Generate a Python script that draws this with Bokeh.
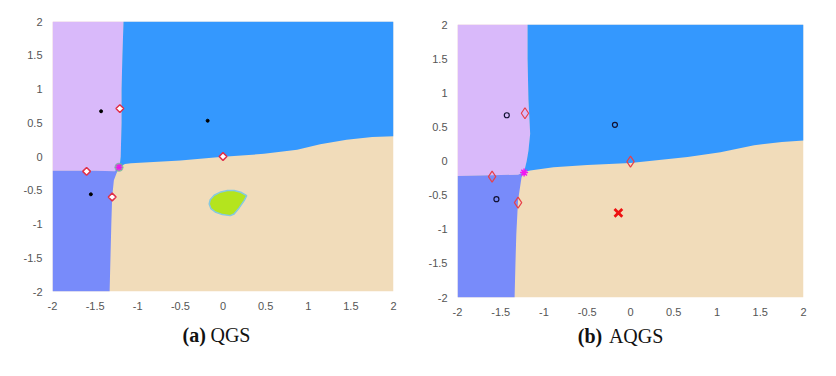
from bokeh.plotting import figure
from bokeh.layouts import row, column
from bokeh.models import Range1d, FixedTicker
from bokeh.core.properties import value
from bokeh.embed import file_html
from bokeh.resources import INLINE

# ---------------- data ----------------
tick_values = [-2, -1.5, -1, -0.5, 0, 0.5, 1, 1.5, 2]
tick_labels = ["-2", "-1.5", "-1", "-0.5", "0", "0.5", "1", "1.5", "2"]

# Panel (a) QGS basin boundaries (x, y)
a_vert_x = [-1.167, -1.18, -1.19, -1.19, -1.20, -1.21, -1.22]
a_vert_y = [2.0, 1.5, 1.0, 0.5, 0.0, -0.12, -0.16]
a_left_x = [-1.22, -1.27, -1.5, -2.0]
a_left_y = [-0.16, -0.22, -0.21, -0.21]
a_low_x = [-1.22, -1.25, -1.28, -1.30, -1.31, -1.32, -1.33]
a_low_y = [-0.16, -0.25, -0.35, -0.60, -1.0, -1.5, -2.0]
a_mid_x = [-1.22, -1.15, -1.08, -0.5, 0.0, 0.48, 0.87, 1.14, 1.45, 1.75, 2.0]
a_mid_y = [-0.16, -0.11, -0.10, -0.06, -0.005, 0.04, 0.10, 0.18, 0.25, 0.29, 0.30]
blob_x = [0.278, 0.208, 0.130, 0.053, -0.025, -0.103, -0.150, -0.162, -0.142,
          -0.084, -0.006, 0.084, 0.130, 0.189, 0.248]
blob_y = [-0.579, -0.530, -0.505, -0.505, -0.525, -0.574, -0.639, -0.703, -0.772,
          -0.827, -0.861, -0.876, -0.851, -0.762, -0.653]

# Panel (b) AQGS basin boundaries
b_vert_x = [-1.19, -1.19, -1.18, -1.16, -1.18, -1.20, -1.23]
b_vert_y = [2.0, 1.5, 0.9, 0.4, 0.15, 0.0, -0.16]
b_left_x = [-1.23, -1.30, -1.6, -2.0]
b_left_y = [-0.16, -0.20, -0.21, -0.22]
b_low_x = [-1.23, -1.26, -1.30, -1.32, -1.33, -1.34]
b_low_y = [-0.16, -0.24, -0.58, -1.07, -1.5, -2.0]
b_mid_x = [-1.23, -1.16, -0.89, -0.5, 0.0, 0.66, 1.04, 1.43, 1.75, 2.0]
b_mid_y = [-0.16, -0.14, -0.09, -0.06, -0.03, 0.06, 0.13, 0.23, 0.28, 0.30]

# Points
roots_x = [-1.43, -0.18, -1.55]
roots_y = [0.67, 0.53, -0.56]
diam_x = [-1.21, -1.60, -1.30, 0.0]
diam_y = [0.71, -0.22, -0.60, 0.0]
diam_b_x = [-1.22, -1.60, -1.30, 0.0]
diam_b_y = [0.70, -0.23, -0.61, -0.01]
star_a = ([-1.22], [-0.16])
star_b = ([-1.23], [-0.17])
cross_b = ([-0.14], [-0.76])

# Captions
caption_tags = ["(a)", "(b)"]
caption_names = ["QGS", "AQGS"]

LILAC = "#D9B9FA"
BLUE = "#3498FE"
PERI = "#788BFA"
BEIGE = "#F1DCBA"
GREEN = "#B4E41E"


def base_fig(width, height, left, right, top, bottom):
    p = figure(width=width, height=height, output_backend="svg", toolbar_location=None,
               x_range=Range1d(-2, 2), y_range=Range1d(-2, 2),
               min_border_left=left, min_border_right=right,
               min_border_top=top, min_border_bottom=bottom,
               background_fill_color="white", border_fill_color="white",
               outline_line_color=None)
    p.grid.visible = False
    for ax in (p.xaxis[0], p.yaxis[0]):
        ax.ticker = FixedTicker(ticks=tick_values)
        ax.major_label_overrides = {v: s for v, s in zip(tick_values, tick_labels)}
        ax.axis_line_color = None
        ax.major_tick_line_color = None
        ax.minor_tick_line_color = None
        ax.major_label_text_color = "#555555"
        ax.major_label_text_font = "Liberation Sans"
        ax.major_label_text_font_size = "11px"
    p.xaxis.major_label_standoff = 4
    p.yaxis.major_label_standoff = 4
    return p


def caption_fig(width, left, right, x1, x2, y, tag, name):
    c = figure(width=width, height=42, output_backend="svg", toolbar_location=None,
               x_range=Range1d(-2, 2), y_range=Range1d(0, 1),
               min_border_left=left, min_border_right=right,
               min_border_top=0, min_border_bottom=0,
               background_fill_color="white", border_fill_color="white",
               outline_line_color=None)
    c.axis.visible = False
    c.grid.visible = False
    c.text(x=[x1], y=[y], text=[tag], text_font=value("Liberation Serif"),
           text_font_size="20px", text_font_style="bold", text_color="#111111",
           text_baseline="alphabetic", text_align="left")
    c.text(x=[x2], y=[y], text=[name], text_font=value("Liberation Serif"),
           text_font_size="20px", text_color="#111111",
           text_baseline="alphabetic", text_align="left")
    return c


def regions(p, vx, vy, lx, ly, wx, wy, mx, my):
    p.quad(left=-2, right=2, bottom=-2, top=2, fill_color=BEIGE, line_color=None)
    # lilac (upper left)
    p.patch([-2] + vx + lx[1:], [2] + vy + ly[1:], fill_color=LILAC, line_color=None)
    # blue (upper right)
    p.patch([vx[0], 2] + mx[::-1] + vx[::-1][1:], [2, 2] + my[::-1] + vy[::-1][1:],
            fill_color=BLUE, line_color=None)
    # periwinkle (lower left)
    p.patch(lx[::-1] + wx[1:] + [-2], ly[::-1] + wy[1:] + [-2],
            fill_color=PERI, line_color=None)


# ---------------- panel (a) ----------------
pa = base_fig(412, 318, 52, 19, 21, 27)
regions(pa, a_vert_x, a_vert_y, a_left_x, a_left_y, a_low_x, a_low_y, a_mid_x, a_mid_y)
pa.patch(blob_x, blob_y, fill_color=GREEN, line_color="#86C9E0", line_width=1.5)
pa.scatter(roots_x, roots_y, size=3, marker="circle", fill_color="black", line_color="black")
pa.scatter(diam_x, diam_y, size=5.5, marker="square", angle=0.785398,
           fill_color="white", line_color="#E0304A", line_width=1.5)
pa.scatter(*star_a, size=9, marker="circle", fill_color="#6FB59A", fill_alpha=0.8, line_color=None)
pa.scatter(*star_a, size=7, marker="asterisk", line_color="#F018E8", line_width=1.3)
ca = caption_fig(412, 52, 19, -0.475, -0.147, 0.6, caption_tags[0], caption_names[0])

# ---------------- panel (b) ----------------
pb = base_fig(400, 318, 45, 9, 24, 21)
regions(pb, b_vert_x, b_vert_y, b_left_x, b_left_y, b_low_x, b_low_y, b_mid_x, b_mid_y)
pb.scatter(roots_x, roots_y, size=5, marker="circle", fill_color=None,
           line_color="#111133", line_width=1.2)
pb.scatter(diam_b_x, diam_b_y, size=11, marker="diamond", fill_color=None,
           line_color="#E8404A", line_width=1.2)
pb.scatter(*star_b, size=8, marker="asterisk", line_color="#F018F0", line_width=1.5)
pb.scatter(*cross_b, size=11, marker="x", line_color="#EE1111", line_width=2.8)
cb = caption_fig(400, 45, 9, -0.609, -0.25, 0.575, caption_tags[1], caption_names[1])

layout = row(column(pa, ca), column(pb, cb))
open("out.html", "w").write(file_html(layout, INLINE))
